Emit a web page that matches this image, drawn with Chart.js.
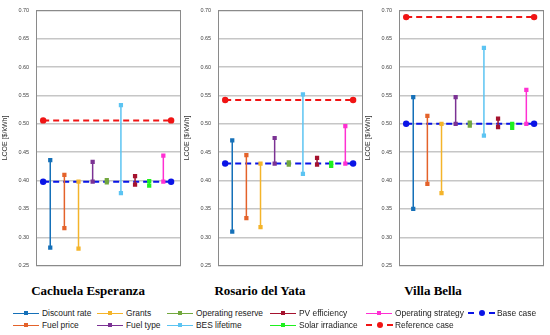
<!DOCTYPE html>
<html>
<head>
<meta charset="utf-8">
<script src="https://cdn.jsdelivr.net/npm/chart.js@4.4.0/dist/chart.umd.min.js"></script>
<style>
  body { margin: 0; background: #fff; width: 550px; height: 335px; position: relative; overflow: hidden; font-family: "Liberation Sans", Arial, sans-serif; }
  .panel { position: absolute; top: 0; width: 185px; height: 276px; }
  .title { position: absolute; top: 283px; font-family: "Liberation Serif", "Times New Roman", serif; font-weight: bold; font-size: 13px; color: #000; text-align: center; }
  .legend { position: absolute; top: 307px; left: 0; width: 550px; height: 26px; font-size: 8.4px; color: #222; }
  .item { position: absolute; height: 12px; line-height: 12px; white-space: nowrap; }
  .sw { display: inline-block; position: relative; width: 26px; height: 12px; vertical-align: top; margin-right: 3px; }
  .sw .ln { position: absolute; left: 0; right: 0; top: 5.5px; height: 1.5px; }
  .sw .mk { position: absolute; left: 11px; top: 4px; width: 4px; height: 4px; }
  .sw .dl { position: absolute; top: 5px; width: 6px; height: 2px; }
  .sw .dot { position: absolute; top: 3px; width: 6px; height: 6px; border-radius: 50%; }
</style>
</head>
<body>
<div class="panel" style="left:0px"><canvas id="c0"></canvas></div>
<div class="panel" style="left:182px"><canvas id="c1"></canvas></div>
<div class="panel" style="left:363px"><canvas id="c2"></canvas></div>
<div class="title" style="left:0px;width:176px">Cachuela Esperanza</div>
<div class="title" style="left:182px;width:156px">Rosario del Yata</div>
<div class="title" style="left:363px;width:140px">Villa Bella</div>
<div class="legend" id="legend"></div>
<script>
// Sensitivity factors (same order everywhere)
const factors = ['Discount rate', 'Fuel price', 'Grants', 'Fuel type', 'Operating reserve',
                 'BES lifetime', 'PV efficiency', 'Solar irradiance', 'Operating strategy'];
const factorColors = ['#1570B8', '#E4622A', '#F4B42A', '#7B3294', '#72A83E',
                      '#5CC4F2', '#A5122E', '#1EF01E', '#FF30D2'];

const sites = ['Cachuela Esperanza', 'Rosario del Yata', 'Villa Bella'];
const baseCase = [0.398, 0.430, 0.500];
const referenceCase = [0.506, 0.542, 0.688];

// LCOE at the two ends of each factor's range [$/kWh]
const cachuelaHigh = [0.436, 0.410, 0.398, 0.433, 0.401, 0.533, 0.408, 0.399, 0.444];
const cachuelaLow  = [0.282, 0.316, 0.280, 0.398, 0.397, 0.378, 0.393, 0.391, 0.398];
const rosarioHigh  = [0.471, 0.445, 0.430, 0.475, 0.432, 0.552, 0.440, 0.431, 0.496];
const rosarioLow   = [0.310, 0.334, 0.318, 0.430, 0.428, 0.412, 0.428, 0.426, 0.430];
const villaHigh    = [0.547, 0.514, 0.500, 0.547, 0.502, 0.634, 0.509, 0.500, 0.560];
const villaLow     = [0.350, 0.394, 0.378, 0.500, 0.497, 0.479, 0.494, 0.493, 0.500];

const highs = [cachuelaHigh, rosarioHigh, villaHigh];
const lows = [cachuelaLow, rosarioLow, villaLow];

const yMin = 0.25, yMax = 0.70, yStep = 0.05;
const yTitle = 'LCOE [$/kWh]';

// frame round the plot area
const framePlugin = {
  id: 'frame',
  beforeDatasetsDraw(chart) {
    const a = chart.chartArea, ctx = chart.ctx;
    ctx.save();
    ctx.strokeStyle = '#8a8a8a';
    ctx.lineWidth = 1;
    ctx.strokeRect(Math.round(a.left) + 0.5, Math.round(a.top) + 0.5,
                   Math.round(a.right - a.left) - 1, Math.round(a.bottom - a.top));
    ctx.restore();
  }
};

function makeChart(idx) {
  const datasets = [];
  factors.forEach((f, i) => {
    datasets.push({
      label: f,
      data: [{ x: i + 1, y: highs[idx][i] }, { x: i + 1, y: lows[idx][i] }],
      borderColor: factorColors[i],
      backgroundColor: factorColors[i],
      borderWidth: 1.5,
      showLine: true,
      pointStyle: 'rect',
      pointRadius: 3,
      pointBorderWidth: 0
    });
  });
  datasets.push({
    label: 'Base case',
    data: [{ x: 0.5, y: baseCase[idx] }, { x: 9.55, y: baseCase[idx] }],
    borderColor: '#0a14e6', backgroundColor: '#0a14e6',
    borderWidth: 2, borderDash: [6, 4], showLine: true,
    pointStyle: 'circle', pointRadius: 3.2, pointBorderWidth: 0
  });
  datasets.push({
    label: 'Reference case',
    data: [{ x: 0.5, y: referenceCase[idx] }, { x: 9.55, y: referenceCase[idx] }],
    borderColor: '#f01414', backgroundColor: '#f01414',
    borderWidth: 2, borderDash: [6, 4], showLine: true,
    pointStyle: 'circle', pointRadius: 3.2, pointBorderWidth: 0
  });

  new Chart(document.getElementById('c' + idx), {
    type: 'scatter',
    data: { datasets: datasets },
    options: {
      responsive: true,
      maintainAspectRatio: false,
      animation: false,
      layout: { padding: { left: 1, right: 3, top: 9, bottom: 5 } },
      plugins: { legend: { display: false }, tooltip: { enabled: false } },
      scales: {
        x: { type: 'linear', min: 0, max: 10.25, display: false },
        y: {
          min: yMin, max: yMax,
          ticks: {
            stepSize: yStep,
            padding: 7,
            color: '#444',
            font: { family: 'Liberation Sans', size: 5.5 },
            callback: v => v.toFixed(2)
          },
          grid: { color: '#c6c6c6', lineWidth: 1.5, drawTicks: false },
          border: { display: false },
          title: {
            display: true, text: yTitle, color: '#333',
            font: { family: 'Liberation Sans', size: 7 },
            padding: { top: 0, bottom: 2 }
          }
        }
      }
    },
    plugins: [framePlugin]
  });
}

sites.forEach((s, i) => makeChart(i));

// legend: two rows, filled column by column
const legendCols = [13, 97, 167, 270, 366, 468];
const legendItems = factors.map((f, i) => ({ label: f, color: factorColors[i], dashed: false }));
legendItems.push({ label: 'Base case', color: '#0a14e6', dashed: true });
legendItems.push({ label: 'Reference case', color: '#f01414', dashed: true });
const legend = document.getElementById('legend');
let col = 0, row = 0;
legendItems.forEach((it) => {
  // "Base case" gets the last column, "Reference case" sits under "Operating strategy"
  if (it.label === 'Base case') { col = 5; row = 0; }
  if (it.label === 'Reference case') { col = 4; row = 1; }
  const d = document.createElement('div');
  d.className = 'item';
  d.style.left = legendCols[col] + 'px';
  d.style.top = (row * 12) + 'px';
  let sw;
  if (it.dashed) {
    sw = '<span class="sw" style="width:27px;margin-right:2px"><span class="dl" style="left:0;background:' + it.color +
         '"></span><span class="dot" style="left:10.5px;background:' + it.color +
         '"></span><span class="dl" style="left:21px;background:' + it.color + '"></span></span>';
  } else {
    sw = '<span class="sw"><span class="ln" style="background:' + it.color +
         '"></span><span class="mk" style="background:' + it.color + '"></span></span>';
  }
  d.innerHTML = sw + it.label;
  legend.appendChild(d);
  if (!it.dashed) {
    row++;
    if (row > 1) { row = 0; col++; }
  }
});
</script>
</body>
</html>
